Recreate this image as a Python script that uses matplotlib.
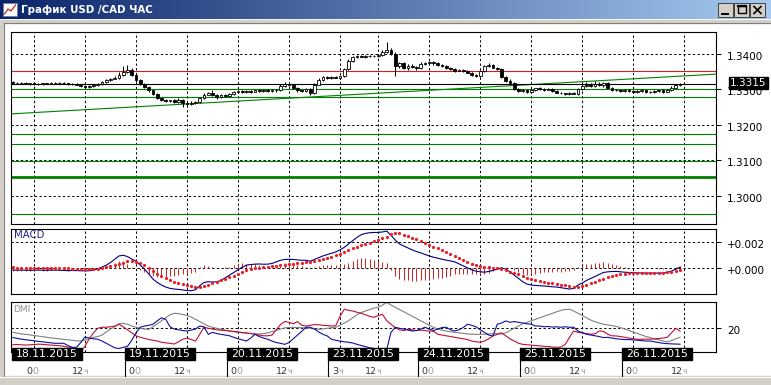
import numpy as np
import matplotlib
matplotlib.use('Agg')
import matplotlib.pyplot as plt
import matplotlib.transforms as mtransforms
from matplotlib.patches import Rectangle
from matplotlib.colors import LinearSegmentedColormap

plt.rcParams['font.family'] = ['DejaVu Sans']

W, H = 771, 385

# hourly USD/CAD bars; bar 0 = 18.11 00:00, first bar is index -5
FIRST_BAR = -5
first_open = 1.3321
# closes in pips above 1.3000
closes = [
    319, 317, 318, 316, 317, 315, 316, 317, 316, 318,
    317, 319, 317, 316, 315, 313, 309, 307, 309, 311,
    315, 321, 326, 330, 333, 341, 350, 354, 340, 326,
    315, 307, 297, 287, 275, 270, 267, 269, 265, 271,
    261, 259, 263, 265, 275, 285, 291, 283, 279, 285,
    281, 287, 292, 295, 293, 296, 294, 297, 295, 298,
    296, 299, 297, 310, 315, 311, 303, 297, 295, 301,
    291, 313, 327, 335, 331, 335, 333, 337, 357, 380,
    391, 393, 392, 395, 394, 393, 397, 405, 410, 400,
    367, 373, 361, 367, 363, 360, 371, 375, 377, 373,
    369, 365, 361, 357, 353, 355, 351, 347, 341, 337,
    351, 365, 369, 361, 357, 335, 325, 317, 300, 295,
    297, 293, 298, 303, 301, 299, 301, 295, 291, 289,
    287, 290, 288, 300, 309, 313, 309, 315, 311, 317,
    305, 299, 297, 295, 298, 296, 293, 295, 297, 294,
    293, 295, 297, 294, 299, 305, 312, 315,
]
# wick lengths in pips above / below the body
wick_hi = [
    3, 2, 3, 2, 2, 2, 3, 2, 2, 3,
    2, 3, 2, 2, 2, 2, 3, 2, 3, 2,
    3, 3, 4, 3, 5, 8, 15, 14, 5, 4,
    3, 4, 3, 2, 3, 2, 3, 2, 3, 4,
    3, 2, 3, 3, 4, 4, 3, 6, 4, 3,
    3, 4, 3, 2, 3, 2, 3, 2, 3, 2,
    3, 2, 3, 4, 5, 3, 2, 3, 2, 4,
    3, 4, 5, 3, 3, 3, 2, 4, 4, 5,
    4, 3, 3, 3, 3, 3, 4, 5, 23, 6,
    5, 4, 3, 5, 4, 4, 5, 3, 3, 3,
    3, 2, 3, 2, 3, 3, 2, 3, 3, 2,
    4, 5, 4, 3, 3, 4, 3, 3, 4, 3,
    3, 2, 3, 2, 3, 2, 3, 2, 2, 3,
    2, 3, 2, 5, 6, 8, 5, 9, 6, 5,
    3, 2, 3, 2, 3, 2, 3, 2, 3, 2,
    2, 3, 2, 3, 3, 4, 4, 3,
]
wick_lo = [
    2, 3, 2, 2, 3, 2, 2, 3, 2, 2,
    3, 2, 2, 3, 2, 2, 3, 2, 2, 3,
    2, 3, 2, 3, 2, 3, 3, 4, 3, 4,
    3, 2, 3, 4, 3, 3, 2, 3, 2, 3,
    10, 3, 2, 3, 2, 3, 2, 3, 6, 3,
    3, 2, 3, 2, 3, 2, 3, 2, 3, 2,
    3, 2, 3, 2, 3, 2, 3, 4, 3, 2,
    6, 3, 2, 3, 2, 3, 2, 3, 2, 3,
    2, 3, 2, 3, 2, 3, 2, 3, 3, 4,
    30, 6, 4, 5, 3, 4, 3, 2, 3, 3,
    3, 2, 3, 2, 3, 2, 3, 2, 3, 2,
    3, 2, 3, 2, 3, 3, 3, 4, 3, 3,
    2, 3, 2, 3, 2, 3, 2, 3, 2, 3,
    2, 3, 2, 3, 2, 3, 2, 3, 2, 3,
    2, 3, 2, 3, 2, 3, 2, 3, 2, 3,
    2, 3, 2, 3, 2, 3, 2, 3,
]

# MACD main line and signal, units of 1e-5
macd_vals = [
    -12, -13, -12, -13, -14, -13, -12, -13, -14, -13,
    -12, -13, -15, -16, -15, -16, -17, -18, -17, -12,
    -2, 10, 25, 45, 70, 95, 100, 90, 72, 55,
    25, -5, -40, -80, -105, -125, -140, -150, -155, -158,
    -162, -166, -168, -160, -130, -105, -100, -102, -100, -90,
    -70, -50, -30, -10, 10, 25, 30, 33, 34, 32,
    33, 38, 50, 62, 68, 70, 68, 65, 62, 62,
    55, 68, 82, 95, 105, 115, 125, 140, 160, 185,
    210, 235, 255, 265, 270, 272, 272, 276, 282, 250,
    215, 185, 170, 155, 140, 128, 118, 106, 95, 85,
    78, 70, 63, 57, 50, 35, 20, 5, -10, -20,
    -25, -28, -22, -15, -5, 5, -5, -25, -50, -75,
    -100, -118, -125, -128, -130, -132, -135, -138, -140, -145,
    -150, -155, -150, -125, -110, -90, -75, -60, -45, -30,
    -25, -23, -22, -25, -28, -30, -32, -33, -34, -35,
    -35, -34, -35, -34, -30, -20, -5, 10,
]
signal_vals = [
    8, 7, 6, 5, 4, 4, 3, 3, 2, 2,
    1, 1, 0, 0, -1, -1, -2, -2, -3, -3,
    -2, 5, 12, 20, 28, 35, 45, 55, 57, 52,
    40, 25, 5, -20, -40, -60, -75, -90, -100, -110,
    -118, -125, -132, -136, -138, -132, -122, -112, -100, -90,
    -80, -65, -55, -45, -30, -12, -5, 0, 5, 10,
    15, 18, 22, 25, 30, 33, 36, 40, 43, 47,
    50, 55, 62, 70, 80, 90, 100, 110, 125, 140,
    155, 165, 175, 185, 195, 205, 215, 228, 240, 262,
    270, 265, 255, 245, 232, 220, 205, 190, 178, 165,
    152, 140, 125, 110, 95, 80, 65, 50, 35, 25,
    20, 15, 10, 5, 0, -5, -15, -25, -35, -45,
    -60, -70, -80, -90, -98, -102, -108, -112, -118, -122,
    -128, -134, -138, -136, -130, -122, -112, -100, -90, -78,
    -65, -55, -48, -42, -38, -35, -35, -36, -36, -36,
    -35, -35, -34, -33, -30, -25, -18, -10,
]

# DMI: ADX (grey), +DI (navy), -DI (red)
adx = [
    17.3, 16.8, 16.3, 16, 15.6, 15.2, 14.8, 14.4, 14, 13.6,
    13.3, 13, 12.6, 12.3, 12, 11.7, 11.5, 12.2, 13, 14,
    14.5, 15.5, 17.5, 19.5, 21, 23, 23.3, 22.7, 21.5, 20.7,
    20, 19.5, 19.3, 21, 23, 25, 27, 29, 30, 29.8,
    29.2, 28.5, 27.5, 26, 24.5, 23, 21.5, 20.7, 20, 19.3,
    18.8, 18.2, 17.6, 17.3, 17, 16.7, 16.5, 16.3, 16.2, 16.5,
    17, 17.8, 18.6, 19.5, 20.3, 20.5, 20.6, 20.5, 20.4, 20.3,
    20, 19.5, 19.3, 19.6, 20, 20.4, 20.7, 22, 23.5, 25,
    27, 29, 30.5, 31.5, 32.5, 33.5, 34, 35.5, 37.3, 35.5,
    34, 32.5, 31, 29.5, 28, 26.5, 25, 23.5, 22, 20.7,
    19.5, 18.8, 18.2, 17.7, 17.3, 17, 16.6, 16.3, 16, 16,
    16, 16, 16.2, 16.5, 16.4, 16.2, 17, 18.5, 20, 21.5,
    23, 24, 25, 26, 27, 28, 29, 30, 31, 32,
    32.5, 32.7, 31.5, 30, 28.5, 27, 25.5, 24.3, 23.5, 22.7,
    22.2, 21.8, 21.2, 20.5, 19.5, 18.5, 17.5, 16.5, 15.5, 14.5,
    13.8, 13, 12.3, 11.5, 11, 11.8, 13, 14,
]
di_plus = [
    13.8, 13.3, 12.8, 12.4, 12, 11.7, 11.3, 11, 10.6, 10.3,
    10, 10, 10, 8.5, 7.3, 7.3, 10.5, 14.2, 13.5, 13,
    12.7, 11.5, 10, 8.5, 7, 6.5, 7.3, 8, 12, 17,
    20.7, 21.5, 22, 22.7, 25, 27, 26, 21, 19.5, 19,
    18.5, 18.2, 18.8, 19.5, 21.5, 21, 16, 17.3, 16.5, 16,
    15.5, 15, 14, 13, 12.3, 11.5, 13.5, 16, 14.5, 13.5,
    12.7, 11.5, 10.5, 10, 9.3, 10.5, 13, 15.5, 18, 20.7,
    20.7, 19.5, 17.5, 16, 14.9, 12.7, 12, 11.5, 11, 10.7,
    10.2, 9.3, 8.5, 7.8, 7, 6.5, 6.2, 6, 6, 17.3,
    20.7, 20, 19.5, 18.8, 18.2, 18.5, 19.5, 20.7, 19.5, 18.5,
    19.5, 20.5, 20.7, 19, 18.2, 19, 20.5, 22.7, 22, 21,
    19, 17.3, 15.5, 14.9, 22.7, 23.5, 24.9, 24, 24.5, 24,
    23.5, 23, 22.7, 21.5, 21.5, 21, 21.2, 20.8, 21, 20.7,
    21, 20.7, 20.7, 18.2, 17, 16, 15.5, 15, 14.5, 13.8,
    14, 13.5, 13, 12.7, 12.5, 12.5, 12.3, 12, 11.8, 11.5,
    11.5, 11, 10.5, 10, 9.8, 9.6, 9.5, 9.4,
]
di_minus = [
    9, 9.2, 9, 8.8, 9, 9.2, 9.4, 9.3, 9, 8.8,
    8.6, 8.4, 8, 7.5, 7, 6, 4.5, 8, 13, 17,
    20, 20.7, 20.7, 21, 21.5, 22.7, 21, 19, 17, 15,
    14, 13.3, 12.5, 12, 11.5, 10.7, 10.3, 10, 9.5, 11,
    12.7, 13.5, 12.5, 11.5, 16, 20.7, 20, 19.5, 19, 18.7,
    18.5, 18.2, 18, 17.6, 17.2, 17, 16.5, 16, 15.5, 15,
    15, 15.5, 19, 22.5, 24.5, 24, 23, 24.5, 22, 21.5,
    22, 22.5, 22.3, 22, 21.8, 21.5, 21.7, 28, 32.7, 32,
    31.5, 30.7, 30, 29, 28, 27.3, 28.5, 29.3, 25, 22.7,
    20.5, 19, 18.5, 19.5, 19, 18.5, 18.8, 18.5, 18.2, 18,
    16, 15.5, 15, 14.5, 14, 13.5, 13, 12.5, 11.5, 11,
    10.7, 11.5, 13, 14.9, 16, 17, 15, 13, 11.5, 10,
    9.3, 9, 8.8, 8.5, 8.3, 8, 7.8, 7.5, 7.3, 7.5,
    9.3, 14, 18.2, 17.3, 17, 16.5, 16, 16.3, 18.2, 18,
    16, 15, 14.9, 14.5, 14, 13.5, 13, 12.7, 12.7, 12.8,
    12.7, 12.9, 13.2, 13.5, 14, 17, 20, 18.2,
]

# drawn levels on the price chart
red_level = 1.33518
green_levels = [1.33011, 1.32786, 1.31751, 1.31469, 1.30983, 1.29482]
thick_level = 1.30541
trend_ends = [1.3231, 1.3343]
last_price = 1.3315

price_ticks = [1.30, 1.31, 1.32, 1.33, 1.34]
macd_ticks = [0.0, 0.002]
dmi_ticks = [20]

hour_ticks = [0, 12, 24, 36, 48, 60, 72, 81, 93, 105, 117, 129, 141, 153]
hour_main = ['0', '12', '0', '12', '0', '12', '3', '12', '0', '12', '0', '12', '0', '12']
hour_tail = ['0', 'ч', '0', 'ч', '0', 'ч', 'ч', 'ч', '0', 'ч', '0', 'ч', '0', 'ч']
day_starts = [-5.2, 21.4, 45.4, 69.2, 90.4, 114.4, 138.4]
day_labels = ['18.11.2015', '19.11.2015', '20.11.2015', '23.11.2015',
              '24.11.2015', '25.11.2015', '26.11.2015']

# pixel layout: bar 0 sits at x=34px, 4.25px per bar
X0_PX, PX_PER_BAR = 34, 4.25
XLIM = ((11 - X0_PX) / PX_PER_BAR, (716 - X0_PX) / PX_PER_BAR)

fig = plt.figure(figsize=(W / 100, H / 100), dpi=100)


def axes_px(x0, y0, x1, y1):
    return fig.add_axes([x0 / W, 1 - y1 / H, (x1 - x0) / W, (y1 - y0) / H])


def shift_px(dx, dy):
    return mtransforms.ScaledTranslation(dx / 100, -dy / 100, fig.dpi_scale_trans)


# window chrome
bg = axes_px(0, 0, W, H)
bg.axis('off')
grad = np.linspace(0, 1, 256).reshape(1, -1)
title_cmap = LinearSegmentedColormap.from_list('title', ['#0a246a', '#a6caf0'])
bg.imshow(grad, extent=(0, W, 19.5, 0), aspect='auto', cmap=title_cmap)
bg.add_patch(Rectangle((0, 19.5), W, 3, color='#d4d0c8'))
bg.add_patch(Rectangle((0, 19.5), 3, H, color='#d4d0c8'))
bg.add_patch(Rectangle((0, 376), W, 9, color='#d4d0c8'))
bg.plot([3.5, 3.5], [22.5, 376], color='#808080', lw=0.8)
bg.plot([3.5, W], [22.5, 22.5], color='#808080', lw=0.8)
bg.plot([0, W], [376.5, 376.5], color='#ffffff', lw=0.8)
# title icon
bg.add_patch(Rectangle((3, 3), 14, 13, facecolor='white', edgecolor='#7080a0', lw=0.6))
bg.plot([4.5, 8, 11, 15.5], [14, 9, 11, 5], color='#d02020', lw=0.9)
bg.text(21, 10, 'График USD /CAD ЧАС', color='white', fontsize=7.4,
        fontweight='bold', ha='left', va='center')
# min / max / close buttons
for bx in (718, 734, 750):
    bg.add_patch(Rectangle((bx, 3), 15, 14, facecolor='#d4d0c8',
                           edgecolor='#404040', lw=0.7))
bg.plot([722, 728], [13.5, 13.5], color='black', lw=1.4)
bg.add_patch(Rectangle((738, 6), 8, 7, fill=False, edgecolor='black', lw=1.0))
bg.plot([738, 746], [6.3, 6.3], color='black', lw=1.6)
bg.plot([754, 761], [6.5, 13.5], color='black', lw=1.2)
bg.plot([754, 761], [13.5, 6.5], color='black', lw=1.2)
bg.set_xlim(0, W)
bg.set_ylim(H, 0)


def style_panel(ax, yticks, labels, ylim):
    ax.set_xlim(XLIM)
    ax.set_ylim(ylim)
    for s in ax.spines.values():
        s.set_color('black')
        s.set_linewidth(0.8)
    ax.tick_params(axis='x', bottom=False, labelbottom=False)
    ax.yaxis.tick_right()
    ax.set_yticks(yticks)
    ax.set_yticklabels(labels)
    ax.tick_params(axis='y', length=3.8, width=0.7, pad=4.3, labelsize=7.5,
                   colors='black')
    # labels sit a couple of pixels below their grid line
    for lbl in ax.get_yticklabels():
        lbl.set_transform(lbl.get_transform() + shift_px(0, 2))
    for t in hour_ticks:
        ax.axvline(t, color='black', lw=0.7, dashes=(2.4, 2.4), zorder=0.5)
    for v in yticks:
        ax.axhline(v, color='black', lw=0.7, dashes=(2.4, 2.4), zorder=0.5)


x = np.arange(len(closes)) + FIRST_BAR

# ---- price panel ----
ax = axes_px(11, 32.3, 716, 224)
style_panel(ax, price_ticks, ['%.4f' % v for v in price_ticks], (1.29208, 1.34608))

for lvl in green_levels:
    ax.axhline(lvl, color='#008000', lw=0.8, zorder=1)
ax.axhline(thick_level, color='#008000', lw=2.0, zorder=1)
ax.plot(XLIM, trend_ends, color='#008000', lw=0.8, zorder=1)
ax.axhline(red_level, color='#cc2020', lw=0.8, zorder=1)
ax.axhline(last_price, color='black', lw=0.8, zorder=1)

c = 1.3 + np.array(closes) / 1e4
o = np.r_[first_open, c[:-1]]
hi = np.maximum(o, c) + np.array(wick_hi) / 1e4
lo = np.minimum(o, c) - np.array(wick_lo) / 1e4
ax.vlines(x, lo, hi, color='black', lw=0.75, zorder=3)
up = c >= o
ax.bar(x, np.maximum(np.abs(c - o), 0.00004), bottom=np.minimum(o, c), width=0.7,
       color=np.where(up, 'white', 'black'), edgecolor='black', linewidth=0.6, zorder=4)

blend = mtransforms.blended_transform_factory(ax.transAxes, ax.transData)
ax.text(1 + 14 / 705, last_price, '%.4f' % last_price,
        transform=blend + shift_px(0, -1), ha='left', va='center', color='white',
        fontsize=7.5, zorder=10,
        bbox=dict(boxstyle='square,pad=0.12', fc='black', ec='black'))

# ---- MACD panel ----
mx = axes_px(11, 229, 716, 294)
style_panel(mx, macd_ticks, ['%+.3f' % v for v in macd_ticks], (-0.001925, 0.002981))
macd = np.array(macd_vals) * 1e-5
signal = np.array(signal_vals) * 1e-5
mx.vlines(x, 0, macd - signal, color='#d42020', lw=0.7, zorder=2)
mx.plot(x, macd, color='#000080', lw=0.8, zorder=3)
mx.plot(x, signal, ls='none', marker='o', ms=2.3, mew=0, color='#ee1c24', zorder=4)
mx.text(0.004, 0.9, 'MACD', transform=mx.transAxes, color='#202080', fontsize=7.3,
        ha='left', va='center')

# ---- DMI panel ----
dx = axes_px(11, 302, 716, 352)
style_panel(dx, dmi_ticks, [str(v) for v in dmi_ticks], (4.2, 37.53))
dx.plot(x, adx, color='#808080', lw=0.8, zorder=2)
dx.plot(x, di_minus, color='#c01030', lw=0.8, zorder=3)
dx.plot(x, di_plus, color='#1010a0', lw=0.8, zorder=4)
dx.text(0.003, 0.84, 'DMI', transform=dx.transAxes, color='#909090', fontsize=6.5,
        ha='left', va='center')

# ---- time scale ----
tx = axes_px(11, 345, 716, 377)
tx.axis('off')
tx.set_xlim(XLIM)
tx.set_ylim(377, 345)
box_w = 70 / PX_PER_BAR
for ds, lab in zip(day_starts, day_labels):
    tx.add_patch(Rectangle((ds, 348), box_w, 12, color='black', clip_on=False))
    tx.text(ds + box_w / 2, 354.3, lab, color='white', fontsize=7.8, ha='center',
            va='center', clip_on=False)
tx.vlines(day_starts[1:], 360, 377, color='black', lw=0.8)
shift = 1.5 / PX_PER_BAR
for t, a, b in zip(hour_ticks, hour_main, hour_tail):
    tx.text(t - shift, 371, a, color='#333333', fontsize=6.8, ha='right', va='center')
    tx.text(t - shift, 371, b, color='#a0a0a0', fontsize=6.8 if b == '0' else 5.8,
            ha='left', va='center')

fig.savefig('out.png', dpi=100)
